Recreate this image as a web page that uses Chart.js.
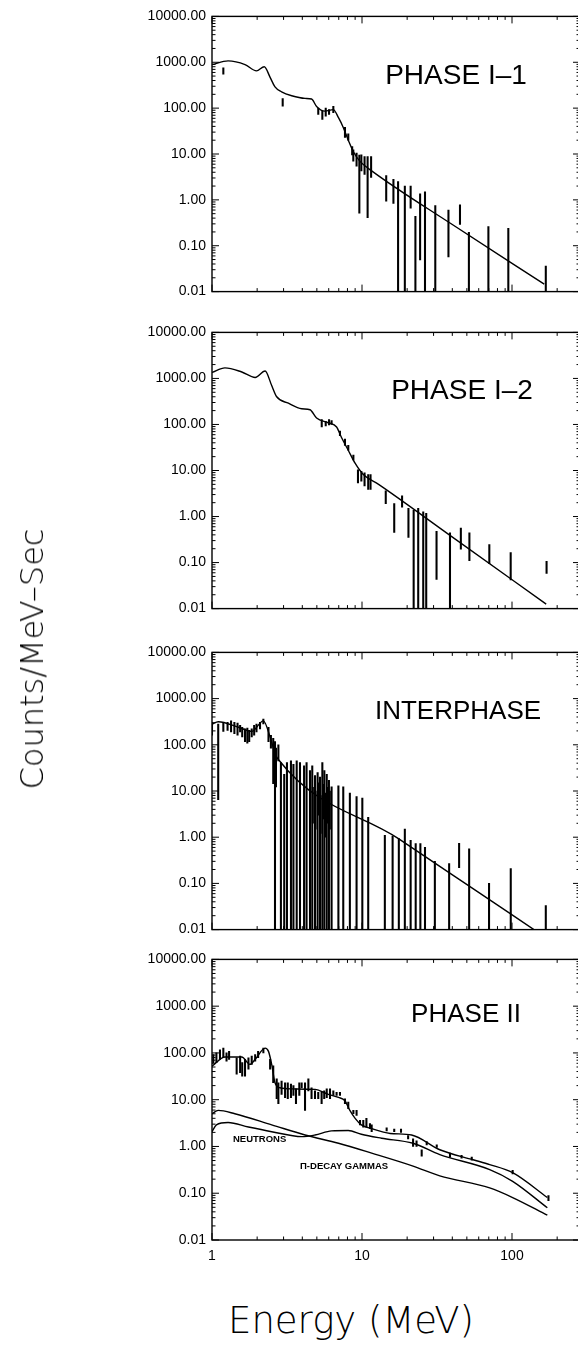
<!DOCTYPE html>
<html>
<head>
<meta charset="utf-8">
<script src="https://cdn.jsdelivr.net/npm/chart.js@4.4.1/dist/chart.umd.min.js"></script>
<style>
  html, body { margin: 0; padding: 0; background: #fff; }
  body { width: 578px; height: 1349px; position: relative; overflow: hidden; }
  canvas { position: absolute; left: 0; }
  .lbl { position: absolute; font-family: "Liberation Sans", Arial, sans-serif; color: #000; white-space: nowrap; line-height: 1; }
  .phase { transform: translateX(-50%); }
  .note { font-size: 9.5px; font-weight: bold; }
  .title { position: absolute; font-family: "DejaVu Sans", sans-serif; font-weight: 200; color: #000; white-space: nowrap; line-height: 1; }
</style>
</head>
<body>
<canvas id="p1" width="580" height="304"></canvas>
<canvas id="p2" width="580" height="305"></canvas>
<canvas id="p3" width="580" height="306"></canvas>
<canvas id="p4" width="580" height="325"></canvas>

<div class="lbl phase" style="font-size:28px; left:456px; top:61px;">PHASE I–1</div>
<div class="lbl phase" style="font-size:28px; left:462px; top:376px;">PHASE I–2</div>
<div class="lbl phase" style="font-size:26px; left:458px; top:697px;">INTERPHASE</div>
<div class="lbl phase" style="font-size:26px; left:466px; top:1000px;">PHASE II</div>
<div class="lbl note" style="left:233px; top:1134px;">NEUTRONS</div>
<div class="lbl note" style="left:300px; top:1161px;">Π-DECAY GAMMAS</div>

<div class="title" style="font-size:32px; left:32px; top:659px; transform:translate(-50%,-50%) rotate(-90deg);">Counts/MeV–Sec</div>
<div class="title" style="font-size:37px; left:228px; top:1302px;">Energy (MeV)</div>

<script>
// axes
const energyMin = 1;
const energyMax = 284;
const countsMin = 0.01;
const countsMax = 10000;
const energyTicks = [1, 10, 100];
const countTicks = [0.01, 0.1, 1, 10, 100, 1000, 10000];

// PHASE I-1 : model curve and data with error bars
const p1ModelE = [1.0, 1.28, 1.66, 1.98, 2.23, 2.44, 2.63, 2.91, 3.4, 4.17, 4.61, 4.98, 5.66, 6.44, 6.97, 7.5, 8.1, 8.76, 9.7, 11.6, 40, 164];
const p1ModelV = [890, 1070, 890, 650, 800, 470, 290, 226, 186, 163, 158, 109, 86, 93, 62, 38, 20, 11.2, 6.9, 4.3, 0.29, 0.0145];
const p1BarE  = [1.19, 2.96, 5.11, 5.44, 5.73, 6.03, 6.44, 7.7, 8.1, 8.6, 8.75, 9.2, 9.6, 9.9, 10.4, 10.9, 11.5, 14.5, 16.2, 17.4, 19.3, 21.1, 22.7, 24.4, 26.3, 30.8, 37.7, 45, 51.6, 69.6, 94.5, 168];
const p1BarLo = [550, 110, 73, 57, 67, 73, 80, 23, 20, 9.6, 7.0, 5.4, 0.51, 4.3, 3.6, 0.41, 3.1, 0.94, 0.84, 0.01, 0.01, 0.66, 0.01, 0.049, 0.01, 0.01, 0.057, 0.29, 0.01, 0.01, 0.01, 0.01];
const p1BarHi = [760, 162, 100, 86, 100, 93, 110, 38, 27.5, 14.5, 12.3, 10.5, 9.5, 9.6, 8.8, 8.8, 8.8, 3.4, 2.8, 2.5, 2.0, 2.0, 0.44, 1.36, 1.5, 0.75, 0.6, 0.78, 0.195, 0.26, 0.24, 0.036];

// PHASE I-2
const p2ModelE = [1.0, 1.22, 1.58, 1.94, 2.26, 2.5, 2.7, 3.23, 3.96, 4.5, 4.98, 5.96, 6.77, 7.3, 8.1, 8.99, 10.2, 12.9, 38.6, 169];
const p2ModelV = [1350, 1700, 1380, 1050, 1450, 700, 400, 290, 219, 209, 138, 109, 88, 52, 27.5, 14.4, 8.2, 5.0, 0.39, 0.0125];
const p2BarE  = [5.39, 5.73, 6.03, 6.27, 7.13, 7.7, 8.1, 8.76, 9.4, 9.9, 10.4, 11.0, 11.4, 14.4, 16.4, 18.5, 20.4, 22.1, 23.7, 25.6, 26.8, 31.4, 38.6, 45.6, 52, 70.6, 98, 170];
const p2BarLo = [88, 93, 98, 100, 57, 35, 27.5, 17, 5.4, 5.9, 4.6, 3.9, 3.9, 1.9, 0.45, 1.6, 0.35, 0.01, 0.01, 0.01, 0.01, 0.043, 0.01, 0.196, 0.11, 0.095, 0.042, 0.058];
const p2BarHi = [128, 117, 128, 122, 72, 48, 35, 21.5, 10.4, 9.6, 8.9, 8.2, 8.2, 3.6, 1.9, 2.8, 1.5, 1.37, 1.5, 1.26, 1.17, 0.48, 0.44, 0.56, 0.44, 0.245, 0.165, 0.107];

// INTERPHASE
const p3ModelE = [1.0, 1.1, 1.5, 1.84, 2.2, 2.44, 2.63, 2.77, 17.6, 52.5, 140];
const p3ModelV = [280, 316, 240, 195, 330, 148, 66, 48, 0.92, 0.085, 0.01];
const p3BarE = [
  1.0, 1.1, 1.19, 1.27, 1.34, 1.41, 1.48, 1.54, 1.59, 1.66, 1.72, 1.77, 1.84, 1.91, 1.98, 2.09, 2.2, 2.38, 2.47, 2.56, 2.63, 2.67, 2.77,
  2.88, 3.03, 3.16, 3.36, 3.49, 3.67, 3.86, 4.11, 4.27, 4.5, 4.66, 4.86, 5.06, 5.25, 5.44, 5.61, 5.82, 6.02, 6.27, 6.96, 7.5, 8.3, 9.2, 10.05, 11.0,
  4.7, 4.9, 5.1, 5.3, 5.5, 5.7, 5.9, 6.1,
  14.2, 16.0, 17.6, 19.3, 21.1, 22.8, 24.5, 26.3, 30.6, 38.1, 44.4, 51.8, 70.3, 98.1, 168
];
const p3BarLo = [
  161, 6.5, 195, 205, 190, 175, 161, 190, 148, 117, 108, 117, 148, 161, 190, 222, 282, 117, 85, 14.4, 0.01, 12.3, 45,
  0.01, 0.01, 0.01, 0.01, 0.01, 0.01, 0.01, 0.01, 0.01, 0.01, 0.01, 0.01, 0.01, 0.01, 0.01, 0.01, 0.01, 0.01, 0.01, 0.01, 0.01, 0.01, 0.01, 0.01, 0.01,
  2, 1.5, 3, 1.2, 2.5, 1.0, 2, 1.5,
  0.01, 0.01, 0.01, 0.01, 0.01, 0.01, 0.01, 0.01, 0.01, 0.01, 0.22, 0.01, 0.01, 0.01, 0.01
];
const p3BarHi = [
  306, 282, 295, 306, 330, 306, 295, 263, 240, 222, 230, 205, 222, 263, 282, 306, 360, 240, 161, 138, 117, 85, 100,
  41, 23, 41, 45, 38, 45, 41, 35, 41, 27.5, 35, 21.5, 25, 20, 41, 27.5, 23, 17, 12.3, 13, 12.3, 9, 7.6, 7.0, 2.7,
  12, 10, 15, 8, 14, 9, 12, 10,
  1.1, 1.06, 0.93, 1.5, 0.86, 0.73, 0.73, 0.6, 0.3, 0.27, 0.74, 0.56, 0.1, 0.21, 0.033
];

// PHASE II : total model, neutron and pi-decay components
const p4TotalE = [1.0, 1.22, 1.58, 1.79, 1.94, 2.26, 2.38, 2.5, 2.63, 2.84, 3.4, 4.86, 5.96, 6.97, 7.7, 8.3, 9.0, 9.9, 11.6, 15.4, 21.4, 33, 55, 71, 101, 172];
const p4TotalV = [52, 82, 82, 57, 73, 127, 108, 57, 23, 18, 17, 16.6, 13, 11.2, 9.5, 5.9, 4.0, 2.9, 2.4, 1.9, 1.76, 0.85, 0.52, 0.41, 0.275, 0.081];
const p4NeutronE = [1.0, 1.07, 1.28, 1.75, 2.5, 3.96, 4.86, 6.27, 8.1, 9.9, 13.5, 21.9, 33, 71, 101, 172];
const p4NeutronV = [2.07, 2.9, 3.25, 2.6, 2.07, 1.62, 1.76, 2.15, 2.2, 1.82, 1.5, 1.17, 0.67, 0.32, 0.18, 0.049];
const p4PionE = [1.0, 1.1, 1.42, 2.5, 4.17, 6.97, 11.6, 21.9, 33, 71, 101, 172];
const p4PionV = [5.0, 5.9, 5.0, 2.9, 1.76, 1.17, 0.72, 0.38, 0.235, 0.13, 0.081, 0.034];
const p4BarE  = [1.02, 1.07, 1.13, 1.19, 1.25, 1.30, 1.46, 1.54, 1.59, 1.66, 1.75, 1.84, 1.94, 2.03, 2.2, 2.44, 2.56, 2.7, 2.77, 2.91, 3.07, 3.2, 3.36, 3.49, 3.63, 3.82, 3.96, 4.17, 4.39, 4.61, 4.86, 5.11, 5.38, 5.6, 5.82, 6.12, 6.44, 6.77, 7.13, 7.7, 8.1, 8.76, 9.2, 9.7, 10.2, 10.7, 11.3, 11.6, 14.6, 16.4, 18.2, 20.3, 21.9, 23.1, 25, 27, 31.5, 38.6, 46.1, 53.9, 101, 175];
const p4BarLo = [62, 62, 73, 79, 67, 73, 35, 38, 32, 32, 45, 57, 67, 79, 100, 45, 23, 10.5, 8.2, 13, 11, 10.5, 11, 12.3, 8.2, 12.3, 18, 5.9, 15.5, 10.5, 10.5, 10.5, 8.2, 10.5, 11, 10.5, 12.3, 12.3, 12.3, 8.2, 6.4, 5.0, 4.6, 2.9, 2.6, 2.6, 2.4, 2.07, 2.15, 2.07, 2.0, 1.45, 1.0, 1.0, 0.62, 1.08, 0.95, 0.59, 0.56, 0.51, 0.26, 0.069];
const p4BarHi = [92, 100, 117, 127, 100, 108, 79, 86, 62, 73, 79, 86, 92, 108, 127, 73, 53, 28, 23, 25, 23, 23, 21.5, 20, 17, 23, 23, 23, 28, 18, 15.5, 14.4, 14.4, 15.5, 17, 17, 15.5, 14.4, 14.4, 10.5, 8.9, 5.9, 5.9, 3.6, 3.6, 4.0, 3.1, 2.9, 2.5, 2.35, 2.35, 1.7, 1.45, 1.32, 0.85, 1.27, 1.08, 0.72, 0.65, 0.59, 0.31, 0.089];

const tickFont = { family: '"Liberation Sans", Arial, sans-serif', size: 14 };

// frame with inward ticks on all four sides
const frameTicks = {
    id: 'frameTicks',
    afterDatasetsDraw(chart) {
        const { ctx, chartArea: a, scales: { x, y } } = chart;
        ctx.save();
        ctx.strokeStyle = '#000';
        ctx.lineWidth = 1.4;
        ctx.strokeRect(a.left, a.top, a.right - a.left, a.bottom - a.top);
        ctx.lineWidth = 1;
        ctx.beginPath();
        for (let e = -2; e <= 4; e++) {
            for (let m = 1; m <= 9; m++) {
                const v = m * Math.pow(10, e);
                if (v > countsMax * 1.0001) break;
                const py = y.getPixelForValue(v);
                const len = m === 1 ? 7 : 3.5;
                ctx.moveTo(a.left, py); ctx.lineTo(a.left + len, py);
                ctx.moveTo(a.right, py); ctx.lineTo(a.right - len, py);
            }
        }
        for (let e = 0; e <= 2; e++) {
            for (let m = 1; m <= 9; m++) {
                const v = m * Math.pow(10, e);
                if (v > energyMax) break;
                const px = x.getPixelForValue(v);
                const len = m === 1 ? 7 : 3.5;
                ctx.moveTo(px, a.bottom); ctx.lineTo(px, a.bottom - len);
                ctx.moveTo(px, a.top); ctx.lineTo(px, a.top + len);
            }
        }
        ctx.stroke();
        ctx.restore();
    }
};

function curve(es, vs) {
    return {
        type: 'line',
        data: es.map((e, i) => ({ x: e, y: vs[i] })),
        borderColor: '#000',
        borderWidth: 1.4,
        pointRadius: 0,
        cubicInterpolationMode: 'monotone',
        fill: false,
    };
}

function errorBars(es, lo, hi) {
    return {
        type: 'bar',
        data: es.map((e, i) => ({ x: e, y: [lo[i], hi[i]] })),
        backgroundColor: '#000',
        borderWidth: 0,
        barThickness: 1.4,
        grouped: false,
    };
}

function makePanel(canvasId, areaTop, areaBottom, showEnergy, datasets) {
    const padTop = 10;
    const xAxisH = showEnergy ? 30 : 10;
    const canvas = document.getElementById(canvasId);
    canvas.style.top = (areaTop - padTop) + 'px';

    new Chart(canvas, {
        type: 'line',
        data: { datasets },
        options: {
            responsive: false,
            animation: false,
            events: [],
            layout: { padding: { top: padTop, left: 0, right: 0, bottom: 0 } },
            plugins: { legend: { display: false }, tooltip: { enabled: false } },
            scales: {
                x: {
                    type: 'logarithmic',
                    min: energyMin,
                    max: energyMax,
                    bounds: 'data',
                    offset: false,
                    grid: { display: false, drawTicks: false },
                    border: { display: false },
                    afterBuildTicks: (s) => { s.ticks = energyTicks.map((v) => ({ value: v })); },
                    afterFit: (s) => { s.height = xAxisH; },
                    ticks: {
                        display: showEnergy,
                        padding: 8,
                        autoSkip: false,
                        maxRotation: 0,
                        color: '#000',
                        font: tickFont,
                        callback: (v) => String(v),
                    },
                },
                y: {
                    type: 'logarithmic',
                    min: countsMin,
                    max: countsMax,
                    bounds: 'data',
                    grid: { display: false, drawTicks: false },
                    border: { display: false },
                    afterBuildTicks: (s) => { s.ticks = countTicks.map((v) => ({ value: v })); },
                    afterFit: (s) => { s.width = 212; },
                    ticks: {
                        padding: 6,
                        autoSkip: false,
                        color: '#000',
                        font: tickFont,
                        callback: (v) => Number(v).toFixed(2),
                    },
                },
            },
        },
        plugins: [frameTicks],
    });
}

makePanel('p1', 12, 296, false, [
    curve(p1ModelE, p1ModelV),
    errorBars(p1BarE, p1BarLo, p1BarHi),
]);
makePanel('p2', 328, 613, false, [
    curve(p2ModelE, p2ModelV),
    errorBars(p2BarE, p2BarLo, p2BarHi),
]);
makePanel('p3', 648, 934, false, [
    curve(p3ModelE, p3ModelV),
    errorBars(p3BarE, p3BarLo, p3BarHi),
]);
makePanel('p4', 955, 1240, true, [
    curve(p4TotalE, p4TotalV),
    curve(p4NeutronE, p4NeutronV),
    curve(p4PionE, p4PionV),
    errorBars(p4BarE, p4BarLo, p4BarHi),
]);
</script>
</body>
</html>
